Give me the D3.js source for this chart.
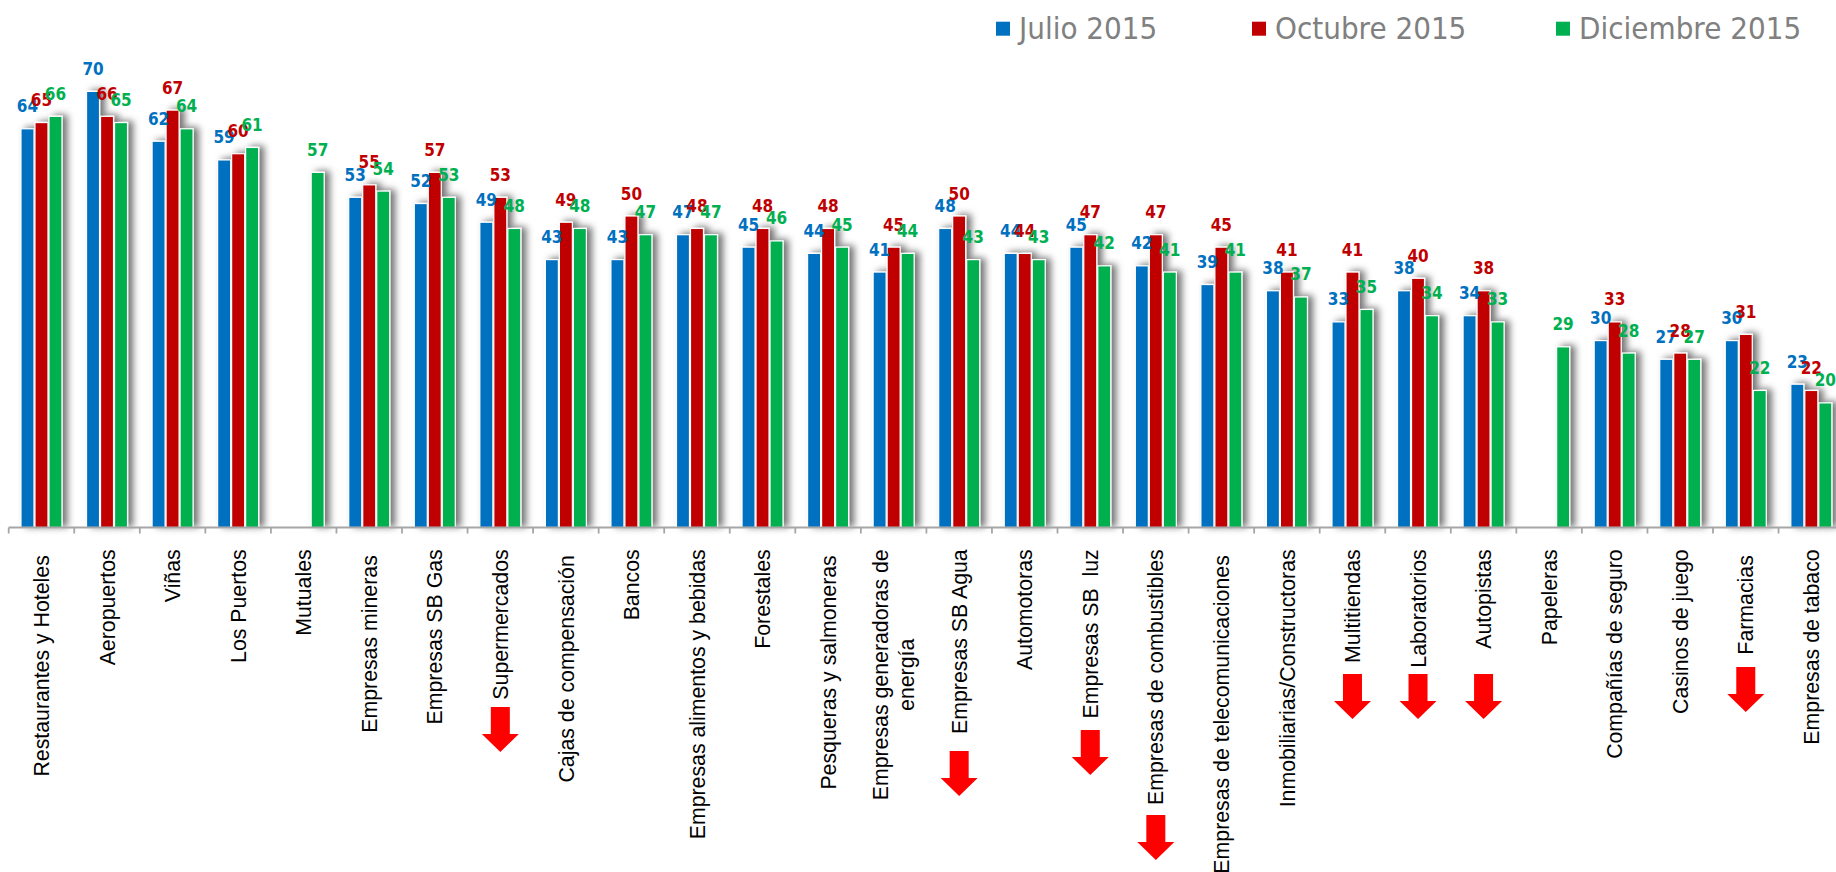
<!DOCTYPE html>
<html>
<head>
<meta charset="utf-8">
<script src="https://cdn.jsdelivr.net/npm/d3@7"></script>
<style>
  body { margin: 0; background: #fff; }
  svg { display: block; }
</style>
</head>
<body>
<div id="chart"></div>
<script>
// categories (trailing spaces kept as in the source labels, "\n" = line break)
const categories = [
  "Restaurantes y Hoteles ", "Aeropuertos", "Viñas", "Los Puertos", "Mutuales",
  "Empresas mineras ", "Empresas SB Gas", "Supermercados", "Cajas de compensación ",
  "Bancos", "Empresas alimentos y bebidas", "Forestales", "Pesqueras y salmoneras ",
  "Empresas generadoras de\nenergía", "Empresas SB Agua", "Automotoras", "Empresas SB  luz",
  "Empresas de combustibles", "Empresas de telecomunicaciones ", "Inmobiliarias/Constructoras",
  "Multitiendas", "Laboratorios", "Autopistas", "Papeleras", "Compañías de seguro",
  "Casinos de juego", "Farmacias ", "Empresas de tabaco"
];
const julio     = [64, 70, 62, 59, null, 53, 52, 49, 43, 43, 47, 45, 44, 41, 48, 44, 45, 42, 39, 38, 33, 38, 34, null, 30, 27, 30, 23];
const octubre   = [65, 66, 67, 60, null, 55, 57, 53, 49, 50, 48, 48, 48, 45, 50, 44, 47, 47, 45, 41, 41, 40, 38, null, 33, 28, 31, 22];
const diciembre = [66, 65, 64, 61, 57, 54, 53, 48, 48, 47, 47, 46, 45, 44, 43, 43, 42, 41, 41, 37, 35, 34, 33, 29, 28, 27, 22, 20];
const seriesNames = ["Julio 2015", "Octubre 2015", "Diciembre 2015"];
const seriesColors = ["#0070C0", "#C00000", "#00B050"];

// categories marked with a red "down" arrow
const decreasing = ["Supermercados", "Empresas SB Agua", "Empresas SB  luz", "Empresas de combustibles",
                    "Multitiendas", "Laboratorios", "Autopistas", "Farmacias"];
// layout: top of each arrow (px)
const arrowTop = {
  "Supermercados": 707, "Empresas SB Agua": 751, "Empresas SB  luz": 730,
  "Empresas de combustibles": 815, "Multitiendas": 674, "Laboratorios": 674,
  "Autopistas": 674, "Farmacias": 667
};

const width = 1836, height = 872;
const axisY = 527.5;
const plotLeft = 8.7, bandW = 65.55;

const svg = d3.select("#chart").append("svg")
  .attr("width", width)
  .attr("height", height);

svg.append("rect").attr("width", width).attr("height", height).attr("fill", "#fff");

// drop shadow for the bars
const filter = svg.append("defs").append("filter")
  .attr("id", "shadow")
  .attr("filterUnits", "userSpaceOnUse")
  .attr("x", 0).attr("y", 0).attr("width", width).attr("height", height);
filter.append("feDropShadow")
  .attr("dx", 5).attr("dy", -1)
  .attr("stdDeviation", 3.5)
  .attr("flood-color", "#000")
  .attr("flood-opacity", 0.55);

// scales
const x0 = d3.scaleBand()
  .domain(categories)
  .range([plotLeft, plotLeft + bandW * categories.length]);
const x1 = d3.scaleBand()
  .domain(d3.range(seriesNames.length))
  .range([-21, 21]);
const y = d3.scaleLinear()
  .domain([0, 70])
  .range([axisY, axisY - 70 * 6.23]);

const cx = c => x0(c) + x0.bandwidth() / 2;

const series = [julio, octubre, diciembre];
const barData = [];
categories.forEach((c, i) => {
  series.forEach((s, k) => {
    if (s[i] != null) barData.push({ cat: c, k: k, value: s[i] });
  });
});

// bars
svg.append("g")
  .selectAll("rect")
  .data(barData)
  .join("rect")
  .attr("x", d => cx(d.cat) + x1(d.k) + 0.5)
  .attr("y", d => y(d.value))
  .attr("width", 13)
  .attr("height", d => axisY - y(d.value))
  .attr("fill", d => seriesColors[d.k])
  .attr("stroke", "#fff")
  .attr("stroke-width", 1.2)
  .attr("filter", "url(#shadow)");

// value labels
svg.append("g")
  .attr("font-family", "'DejaVu Sans Condensed', 'DejaVu Sans', sans-serif")
  .style("font-stretch", "condensed")
  .attr("font-weight", "bold")
  .attr("font-size", 17)
  .attr("text-anchor", "middle")
  .selectAll("text")
  .data(barData)
  .join("text")
  .attr("x", d => cx(d.cat) + x1(d.k) + 7)
  .attr("y", d => y(d.value) - 16.5)
  .attr("fill", d => seriesColors[d.k])
  .text(d => d.value);

// category axis
const axis = svg.append("g").attr("stroke", "#a6a6a6");
axis.append("line")
  .attr("x1", plotLeft).attr("x2", width)
  .attr("y1", axisY).attr("y2", axisY)
  .attr("stroke-width", 1.8);
axis.selectAll(".tick")
  .data(categories)
  .join("line")
  .attr("class", "tick")
  .attr("x1", d => x0(d)).attr("x2", d => x0(d))
  .attr("y1", axisY).attr("y2", axisY + 6)
  .attr("stroke-width", 1.8);

// rotated category labels
const labelTop = 549.3;
const labelG = svg.append("g")
  .attr("font-family", "'Liberation Sans', Arial, sans-serif")
  .attr("font-size", 21.3)
  .attr("fill", "#000");
categories.forEach(c => {
  const lines = c.split("\n");
  const g = labelG.append("g")
    .attr("transform", `translate(${cx(c)},${labelTop}) rotate(-90)`);
  const texts = lines.map((ln, i) => g.append("text")
    .style("white-space", "pre")
    .attr("text-anchor", "middle")
    .attr("y", (i - (lines.length - 1) / 2) * 26)
    .attr("dy", "0.36em")
    .text(ln));
  const maxLen = d3.max(texts, t => t.node().getComputedTextLength());
  texts.forEach(t => t.attr("x", -maxLen / 2));
});

// red down arrows
const arrow = d3.path();
const headW = 37, shaftW = 19, arrowH = 45, shaftH = 27;
arrow.moveTo(-shaftW / 2, 0);
arrow.lineTo(shaftW / 2, 0);
arrow.lineTo(shaftW / 2, shaftH);
arrow.lineTo(headW / 2, shaftH);
arrow.lineTo(0, arrowH);
arrow.lineTo(-headW / 2, shaftH);
arrow.lineTo(-shaftW / 2, shaftH);
arrow.closePath();

svg.append("g")
  .selectAll("path")
  .data(decreasing)
  .join("path")
  .attr("d", arrow.toString())
  .attr("transform", d => {
    const cat = categories.find(c => c.trim() === d.trim());
    return `translate(${cx(cat)},${arrowTop[d]})`;
  })
  .attr("fill", "#FF0000");

// legend
const legendX = [996, 1252, 1556];
const legend = svg.append("g")
  .selectAll("g")
  .data(seriesNames)
  .join("g")
  .attr("transform", (d, i) => `translate(${legendX[i]},0)`);
legend.append("rect")
  .attr("x", 0).attr("y", 21.7)
  .attr("width", 14).attr("height", 14)
  .attr("fill", (d, i) => seriesColors[i]);
legend.append("text")
  .attr("x", 23).attr("y", 39.3)
  .attr("font-family", "'DejaVu Sans Condensed', 'DejaVu Sans', sans-serif")
  .style("font-stretch", "condensed")
  .attr("font-size", 31)
  .attr("fill", "#808080")
  .text(d => d);
</script>
</body>
</html>
